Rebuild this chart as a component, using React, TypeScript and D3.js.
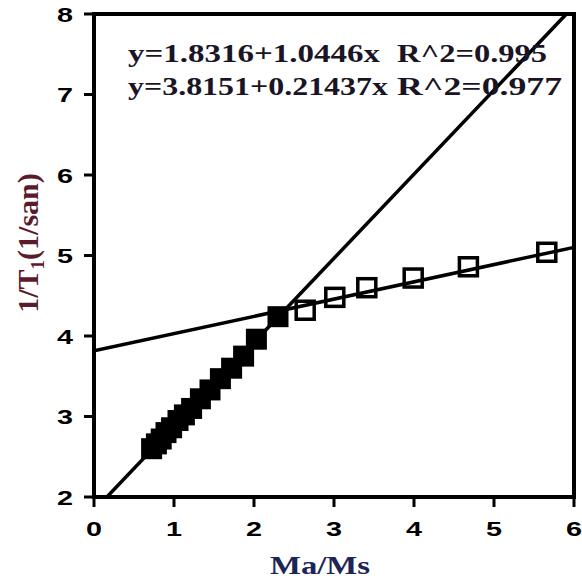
import React from 'react';
import * as d3 from 'd3';

// filled squares (low Ma/Ms)
const lowX = [0.72, 0.78, 0.84, 0.9, 0.97, 1.05, 1.13, 1.22, 1.33, 1.45, 1.58, 1.72, 1.87, 2.03, 2.3];
const lowY = [2.6, 2.66, 2.72, 2.8, 2.86, 2.95, 3.02, 3.1, 3.22, 3.33, 3.47, 3.6, 3.75, 3.96, 4.24];
// open squares (high Ma/Ms)
const highX = [2.64, 3.01, 3.41, 3.99, 4.68, 5.66];
const highY = [4.32, 4.48, 4.6, 4.72, 4.86, 5.04];

const fit1 = { a: 1.8316, b: 1.0446 };
const fit2 = { a: 3.8151, b: 0.21437 };
const eqLabels = ['y=1.8316+1.0446x', 'y=3.8151+0.21437x'];
const r2Labels = ['R^2=0.995', 'R^2=0.977'];

const xTicks = [0, 1, 2, 3, 4, 5, 6];
const yTicks = [2, 3, 4, 5, 6, 7, 8];

const W = 582;
const H = 583;
const left = 94, right = 574, top = 14, bottom = 497;

export default function App() {
  const x = d3.scaleLinear().domain([0, 6]).range([left, right]);
  const y = d3.scaleLinear().domain([2, 8]).range([bottom, top]);
  const line = d3.line<[number, number]>().x(d => x(d[0])).y(d => y(d[1]));

  const x1Start = (2 - fit1.a) / fit1.b;
  const x1End = (8 - fit1.a) / fit1.b;
  const l1: [number, number][] = [[x1Start, 2], [x1End, 8]];
  const l2: [number, number][] = [[0, fit2.a], [6, fit2.a + fit2.b * 6]];

  const sq = 21;
  const tickFont = 'Arial, "Liberation Sans", sans-serif';
  const serif = '"Liberation Serif", "Times New Roman", serif';
  const eqLen = [252, 260];
  const r2Len = [150, 165];

  return (
    <svg width={W} height={H} style={{ position: 'absolute', left: 0, top: 0, background: '#fff' }}>
      <rect x={0} y={0} width={W} height={H} fill="#fff" />
      <defs>
        <clipPath id="plot">
          <rect x={left} y={top - 4} width={right - left + 2} height={bottom - top + 4} />
        </clipPath>
      </defs>

      {/* regression lines */}
      <g clipPath="url(#plot)">
        <path d={line(l1) || ''} stroke="#000" strokeWidth={3.5} fill="none" />
        <path d={line(l2) || ''} stroke="#000" strokeWidth={3.5} fill="none" />
      </g>

      {/* filled squares */}
      <g>
        {lowX.map((v, i) => (
          <rect key={i} x={x(v) - sq / 2} y={y(lowY[i]) - sq / 2} width={sq} height={sq} fill="#000" />
        ))}
      </g>
      {/* open squares */}
      <g>
        {highX.map((v, i) => (
          <rect key={i} x={x(v) - sq / 2 + 1.5} y={y(highY[i]) - sq / 2 + 1.5} width={sq - 3} height={sq - 3}
            fill="none" stroke="#000" strokeWidth={3.5} />
        ))}
      </g>

      {/* frame */}
      <rect x={left} y={top} width={right - left} height={bottom - top} fill="none" stroke="#000" strokeWidth={4} />

      {/* y ticks */}
      <g>
        {yTicks.map(t => (
          <g key={t}>
            <line x1={left - 10} x2={left} y1={y(t)} y2={y(t)} stroke="#000" strokeWidth={3} />
            <text x={73} y={y(t)} dy="0.36em" textAnchor="end" fontFamily={tickFont} fontWeight="900"
              fontSize={21} textLength={16} lengthAdjust="spacingAndGlyphs">{t}</text>
          </g>
        ))}
      </g>
      {/* x ticks */}
      <g>
        {xTicks.map(t => (
          <g key={t}>
            <line x1={x(t)} x2={x(t)} y1={bottom} y2={bottom + 10} stroke="#000" strokeWidth={3} />
            <text x={x(t) - 8} y={528} dy="0.36em" fontFamily={tickFont} fontWeight="900"
              fontSize={21} textLength={16} lengthAdjust="spacingAndGlyphs">{t}</text>
          </g>
        ))}
      </g>

      {/* equations */}
      {eqLabels.map((s, i) => (
        <g key={i}>
          <text x={128} y={62 + i * 33} fontFamily={serif} fontWeight="bold" fontSize={26}
            fill="#1a1424" textLength={eqLen[i]} lengthAdjust="spacingAndGlyphs">{s}</text>
          <text x={397} y={62 + i * 33} fontFamily={serif} fontWeight="bold" fontSize={26}
            fill="#1a1424" textLength={r2Len[i]} lengthAdjust="spacingAndGlyphs">{r2Labels[i]}</text>
        </g>
      ))}

      {/* axis titles */}
      <text x={270} y={574} fontFamily={serif} fontWeight="bold" fontSize={26} fill="#1c2556"
        textLength={100} lengthAdjust="spacingAndGlyphs">Ma/Ms</text>
      <g transform="translate(38,243) rotate(-90)">
        <text textAnchor="middle" fontFamily={serif} fontWeight="bold" fontSize={30} fill="#5a1c2c">
          1/T<tspan fontSize={19} dy={6}>1</tspan><tspan dy={-6}>(1/san)</tspan>
        </text>
      </g>
    </svg>
  );
}
